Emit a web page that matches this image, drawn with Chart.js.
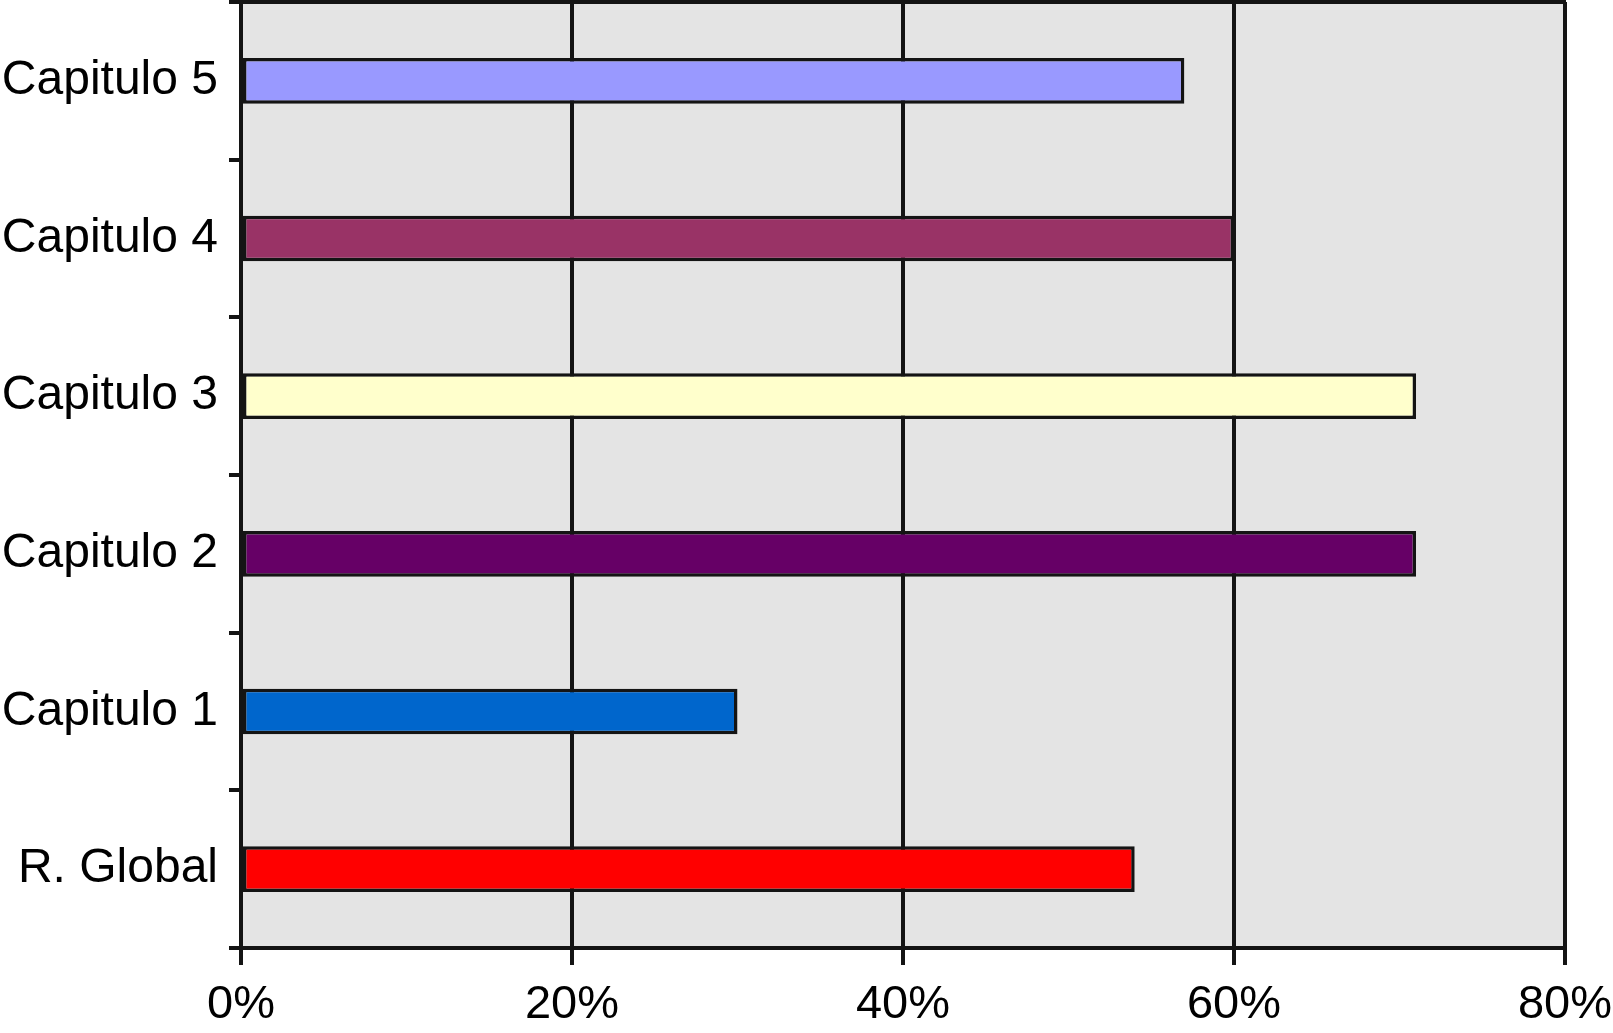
<!DOCTYPE html>
<html>
<head>
<meta charset="utf-8">
<script src="https://cdn.jsdelivr.net/npm/chart.js@4/dist/chart.umd.min.js"></script>
<style>
  html, body { margin: 0; padding: 0; background: #ffffff; }
  #wrap { width: 1613px; height: 1033px; position: relative; }
</style>
</head>
<body>
<div id="wrap"><canvas id="c" width="1613" height="1033"></canvas></div>
<script>
// Data
const categories = ['Capitulo 5', 'Capitulo 4', 'Capitulo 3', 'Capitulo 2', 'Capitulo 1', 'R. Global'];
const values = [57, 60, 71, 71, 30, 54];
const barColors = ['#9999FF', '#993366', '#FFFFCC', '#660066', '#0066CC', '#FF0000'];
const xTickValues = [0, 20, 40, 60, 80];
const xTickSuffix = '%';

const LINE = '#141414';
const FONT = '"Liberation Sans", Arial, Helvetica, sans-serif';

const plotBg = {
  id: 'plotBg',
  beforeDraw(chart) {
    const { ctx, chartArea: a } = chart;
    ctx.save();
    ctx.fillStyle = '#E4E4E4';
    ctx.fillRect(a.left, a.top, a.right - a.left, a.bottom - a.top);
    ctx.restore();
  }
};

new Chart(document.getElementById('c'), {
  type: 'bar',
  data: {
    labels: categories,
    datasets: [{
      data: values,
      backgroundColor: barColors,
      borderColor: LINE,
      borderWidth: 3.5,
      borderSkipped: false,
      categoryPercentage: 1.0,
      barPercentage: 0.29
    }]
  },
  options: {
    indexAxis: 'y',
    responsive: false,
    animation: false,
    events: [],
    layout: { padding: { top: 2, right: 48, bottom: 0, left: 0 } },
    plugins: { legend: { display: false }, tooltip: { enabled: false } },
    scales: {
      x: {
        position: 'bottom',
        min: xTickValues[0],
        max: xTickValues[xTickValues.length - 1],
        afterBuildTicks(scale) { scale.ticks = xTickValues.map(v => ({ value: v })); },
        afterFit(scale) { scale.paddingRight = 0; scale.paddingLeft = 0; scale.height = 85; },
        grid: { color: LINE, lineWidth: 4, drawOnChartArea: true, drawTicks: true, tickLength: 17 },
        border: { display: true, color: LINE, width: 4 },
        ticks: {
          color: '#000',
          font: { family: FONT, size: 47 },
          padding: 12,
          maxRotation: 0,
          autoSkip: false,
          callback: (v) => v + xTickSuffix
        }
      },
      x2: {
        position: 'top',
        min: xTickValues[0],
        max: xTickValues[xTickValues.length - 1],
        afterFit(scale) { scale.height = 0; scale.paddingRight = 0; scale.paddingLeft = 0; },
        grid: { display: false, drawOnChartArea: false, drawTicks: false },
        border: { display: true, color: LINE, width: 4 },
        ticks: { display: false }
      },
      y: {
        position: 'left',
        offset: true,
        afterFit(scale) { scale.width = 241; scale.paddingTop = 0; scale.paddingBottom = 0; },
        grid: { color: LINE, lineWidth: 4, offset: true, drawOnChartArea: false, drawTicks: true, tickLength: 12 },
        border: { display: true, color: LINE, width: 4 },
        ticks: {
          color: '#000',
          font: { family: FONT, size: 48 },
          padding: 11,
          autoSkip: false
        }
      }
    }
  },
  plugins: [plotBg]
});
</script>
</body>
</html>
